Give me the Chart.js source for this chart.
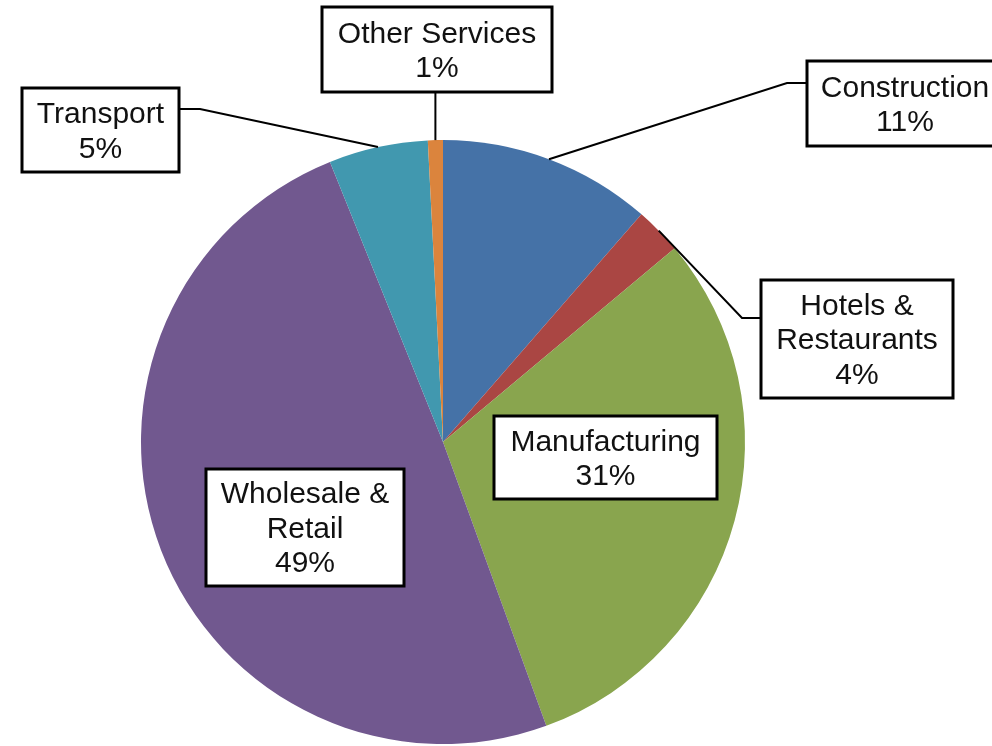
<!DOCTYPE html>
<html>
<head>
<meta charset="utf-8">
<script src="https://cdn.jsdelivr.net/npm/chart.js@4/dist/chart.umd.min.js"></script>
<style>
  html, body { margin: 0; padding: 0; background: #ffffff; }
  #wrap { width: 992px; height: 746px; position: relative; }
</style>
</head>
<body>
<div id="wrap"><canvas id="c"></canvas></div>
<script>
// ---- data ----
const categories = ["Construction", "Hotels & Restaurants", "Manufacturing", "Wholesale & Retail", "Transport", "Other Services"];
const shares = [11.4, 2.5, 30.5, 49.4, 5.3, 0.8];           // slice sizes as drawn
const percentLabels = ["11%", "4%", "31%", "49%", "5%", "1%"]; // printed labels
const labelLines = [["Construction"], ["Hotels &", "Restaurants"], ["Manufacturing"], ["Wholesale &", "Retail"], ["Transport"], ["Other Services"]];

// ---- styles ----
const sliceColors = ["#4572A7", "#AA4643", "#89A54E", "#71588F", "#4198AF", "#DB843D"];

// ---- label box layout (pixels) ----
const boxLayout = [
  { box: [807, 61, 1003, 146], leader: true, elbow: [787, 83] },
  { box: [761, 280, 953, 398], leader: true, elbow: [742, 318] },
  { box: [494, 416, 717, 499], leader: false },
  { box: [206, 469, 404, 586], leader: false },
  { box: [22, 88, 179, 172], leader: true, elbow: [200, 109] },
  { box: [322, 7, 552, 92], leader: true, elbow: null }
];

const labelPlugin = {
  id: 'boxLabels',
  afterDatasetsDraw(chart) {
    const ctx = chart.ctx;
    const meta = chart.getDatasetMeta(0);
    ctx.save();
    // leader lines
    ctx.strokeStyle = '#000';
    ctx.lineWidth = 2;
    meta.data.forEach((arc, i) => {
      const L = boxLayout[i];
      if (!L.leader) return;
      const p = arc.getProps(['x', 'y', 'startAngle', 'endAngle', 'outerRadius'], true);
      const a = (p.startAngle + p.endAngle) / 2;
      const ax = p.x + p.outerRadius * Math.cos(a);
      const ay = p.y + p.outerRadius * Math.sin(a);
      const [x0, y0, x1, y1] = L.box;
      ctx.beginPath();
      ctx.moveTo(ax, ay);
      if (L.elbow) {
        ctx.lineTo(L.elbow[0], L.elbow[1]);
        const bx = L.elbow[0] < x0 ? x0 : x1;
        ctx.lineTo(bx, L.elbow[1]);
      } else {
        ctx.lineTo(ax, y1);
      }
      ctx.stroke();
    });
    // boxes + text
    const lh = 34.5;
    ctx.font = '30px "Liberation Sans", Arial, sans-serif';
    ctx.textAlign = 'center';
    ctx.textBaseline = 'middle';
    meta.data.forEach((arc, i) => {
      const [x0, y0, x1, y1] = boxLayout[i].box;
      ctx.fillStyle = '#ffffff';
      ctx.fillRect(x0, y0, x1 - x0, y1 - y0);
      ctx.lineWidth = 3;
      ctx.strokeStyle = '#000';
      ctx.strokeRect(x0, y0, x1 - x0, y1 - y0);
      const lines = labelLines[i].concat([percentLabels[i]]);
      const cx = (x0 + x1) / 2;
      const cy = (y0 + y1) / 2;
      ctx.fillStyle = '#111111';
      lines.forEach((t, k) => {
        const y = cy + (k - (lines.length - 1) / 2) * lh + 2;
        ctx.fillText(t, cx, y);
      });
    });
    ctx.restore();
  }
};

new Chart(document.getElementById('c'), {
  type: 'pie',
  data: {
    labels: categories,
    datasets: [{
      data: shares,
      backgroundColor: sliceColors,
      borderWidth: 0
    }]
  },
  options: {
    responsive: true,
    maintainAspectRatio: false,
    animation: false,
    layout: { padding: { left: 141, top: 140, right: 247, bottom: 2 } },
    plugins: {
      legend: { display: false },
      tooltip: { enabled: false }
    }
  },
  plugins: [labelPlugin]
});
</script>
</body>
</html>
